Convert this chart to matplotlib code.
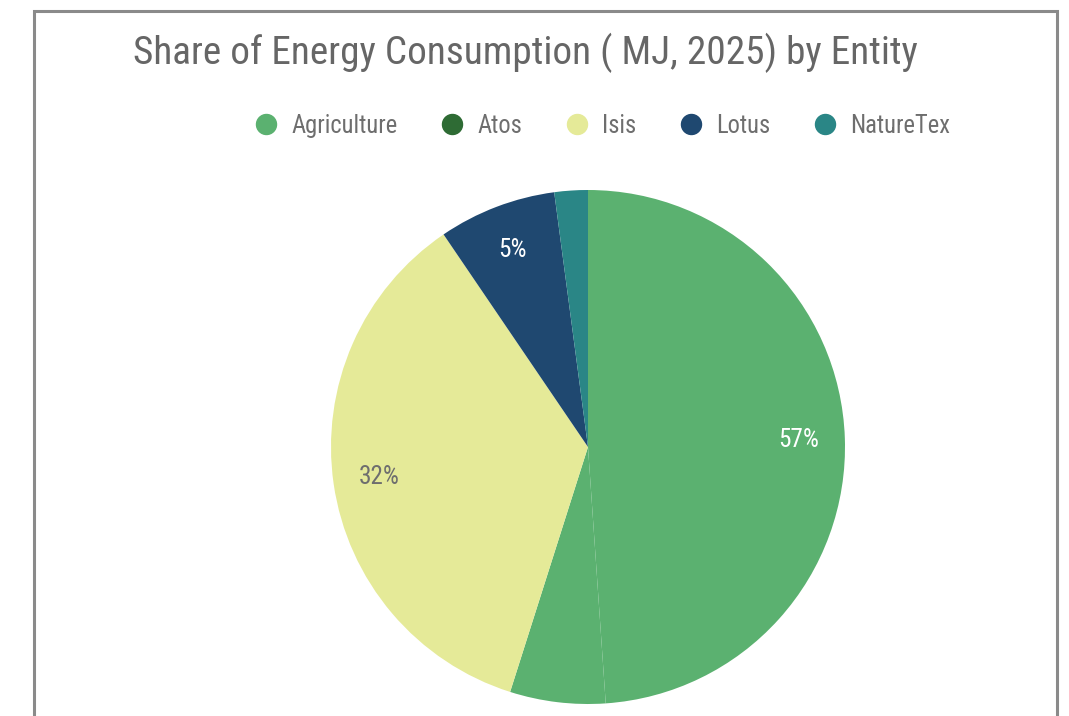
import matplotlib
matplotlib.use("Agg")
import matplotlib.pyplot as plt
from matplotlib import font_manager
from matplotlib.lines import Line2D
from matplotlib.patches import Rectangle
import numpy as np

# ─── DATA ────────────────────────────────────────────────────────────────────
entities = ["Agriculture", "Atos", "Isis", "Lotus", "NatureTex"]
entity_colors = ["#5bb170", "#2e6b34", "#e5ea98", "#1f4870", "#2a8686"]

# wedges as drawn (clockwise from 12 o'clock)
slice_entities = ["Agriculture", "Agriculture", "Isis", "Lotus", "NatureTex"]
slice_values = [48.9, 6.0, 35.6, 7.4, 2.1]
slice_labels = ["57%", "", "32%", "5%", ""]
label_colors = ["white", "white", "#6e6e6e", "white", "white"]

title = "Share of Energy Consumption ( MJ, 2025) by Entity"

# ─── FONT ────────────────────────────────────────────────────────────────────
names = {f.name for f in font_manager.fontManager.ttflist}
family = "Roboto"
for cand in ["Roboto Condensed", "Liberation Sans Narrow", "Open Sans Condensed", "Roboto"]:
    if cand in names:
        family = cand
        break
plt.rcParams["font.family"] = [family, "DejaVu Sans"]

W, H = 1069, 716
fig = plt.figure(figsize=(W / 100, H / 100), dpi=100)
fig.patch.set_facecolor("white")
renderer = fig.canvas.get_renderer()


def fit_size(text, width_px, base=20):
    t = fig.text(0, 0, text, fontsize=base)
    w = t.get_window_extent(renderer).width
    t.remove()
    return base * width_px / w


# outer frame, open at the bottom
fig.patches.append(Rectangle((34 / W, -0.05), (1057 - 34) / W, 1.05 - 11 / H,
                             transform=fig.transFigure, fill=False,
                             edgecolor="#8a8a8a", linewidth=2.2, clip_on=False))

fig.text(133 / W, 1 - 53 / H, title, ha="left", va="center",
         fontsize=fit_size(title, 782), color="#666666")

# ─── PIE ─────────────────────────────────────────────────────────────────────
cx, cy, r = 588, 447, 257
ax = fig.add_axes([(cx - r) / W, (H - cy - r) / H, 2 * r / W, 2 * r / H])
color_of = dict(zip(entities, entity_colors))
wedges, _ = ax.pie(slice_values, colors=[color_of[e] for e in slice_entities],
                   startangle=90, counterclock=False,
                   wedgeprops=dict(linewidth=0))
ax.set_xlim(-1, 1)
ax.set_ylim(-1, 1)
ax.axis("off")

label_size = fit_size("57%", 41)
for w, txt, col in zip(wedges, slice_labels, label_colors):
    if not txt:
        continue
    mid = np.deg2rad((w.theta1 + w.theta2) / 2)
    ax.text(0.82 * np.cos(mid), 0.82 * np.sin(mid), txt, ha="center",
            va="center", fontsize=label_size, color=col)

# ─── LEGEND ──────────────────────────────────────────────────────────────────
leg_size = fit_size("Agriculture", 106)
fs_px = leg_size * 100 / 72
handles = [Line2D([], [], marker="o", linestyle="none", markersize=14.4,
                  markerfacecolor=c, markeredgecolor=c) for c in entity_colors]
leg = fig.legend(handles, entities, loc="center left", ncol=5,
                 bbox_to_anchor=((266 - 0.5 * fs_px) / W, 1 - 126 / H),
                 frameon=False, fontsize=leg_size,
                 handlelength=1.0, handletextpad=25 / fs_px - 0.5,
                 columnspacing=55 / fs_px - 0.5, borderaxespad=0, borderpad=0)
for t in leg.get_texts():
    t.set_color("#6e6e6e")

fig.savefig("out.png", dpi=100, facecolor="white")
